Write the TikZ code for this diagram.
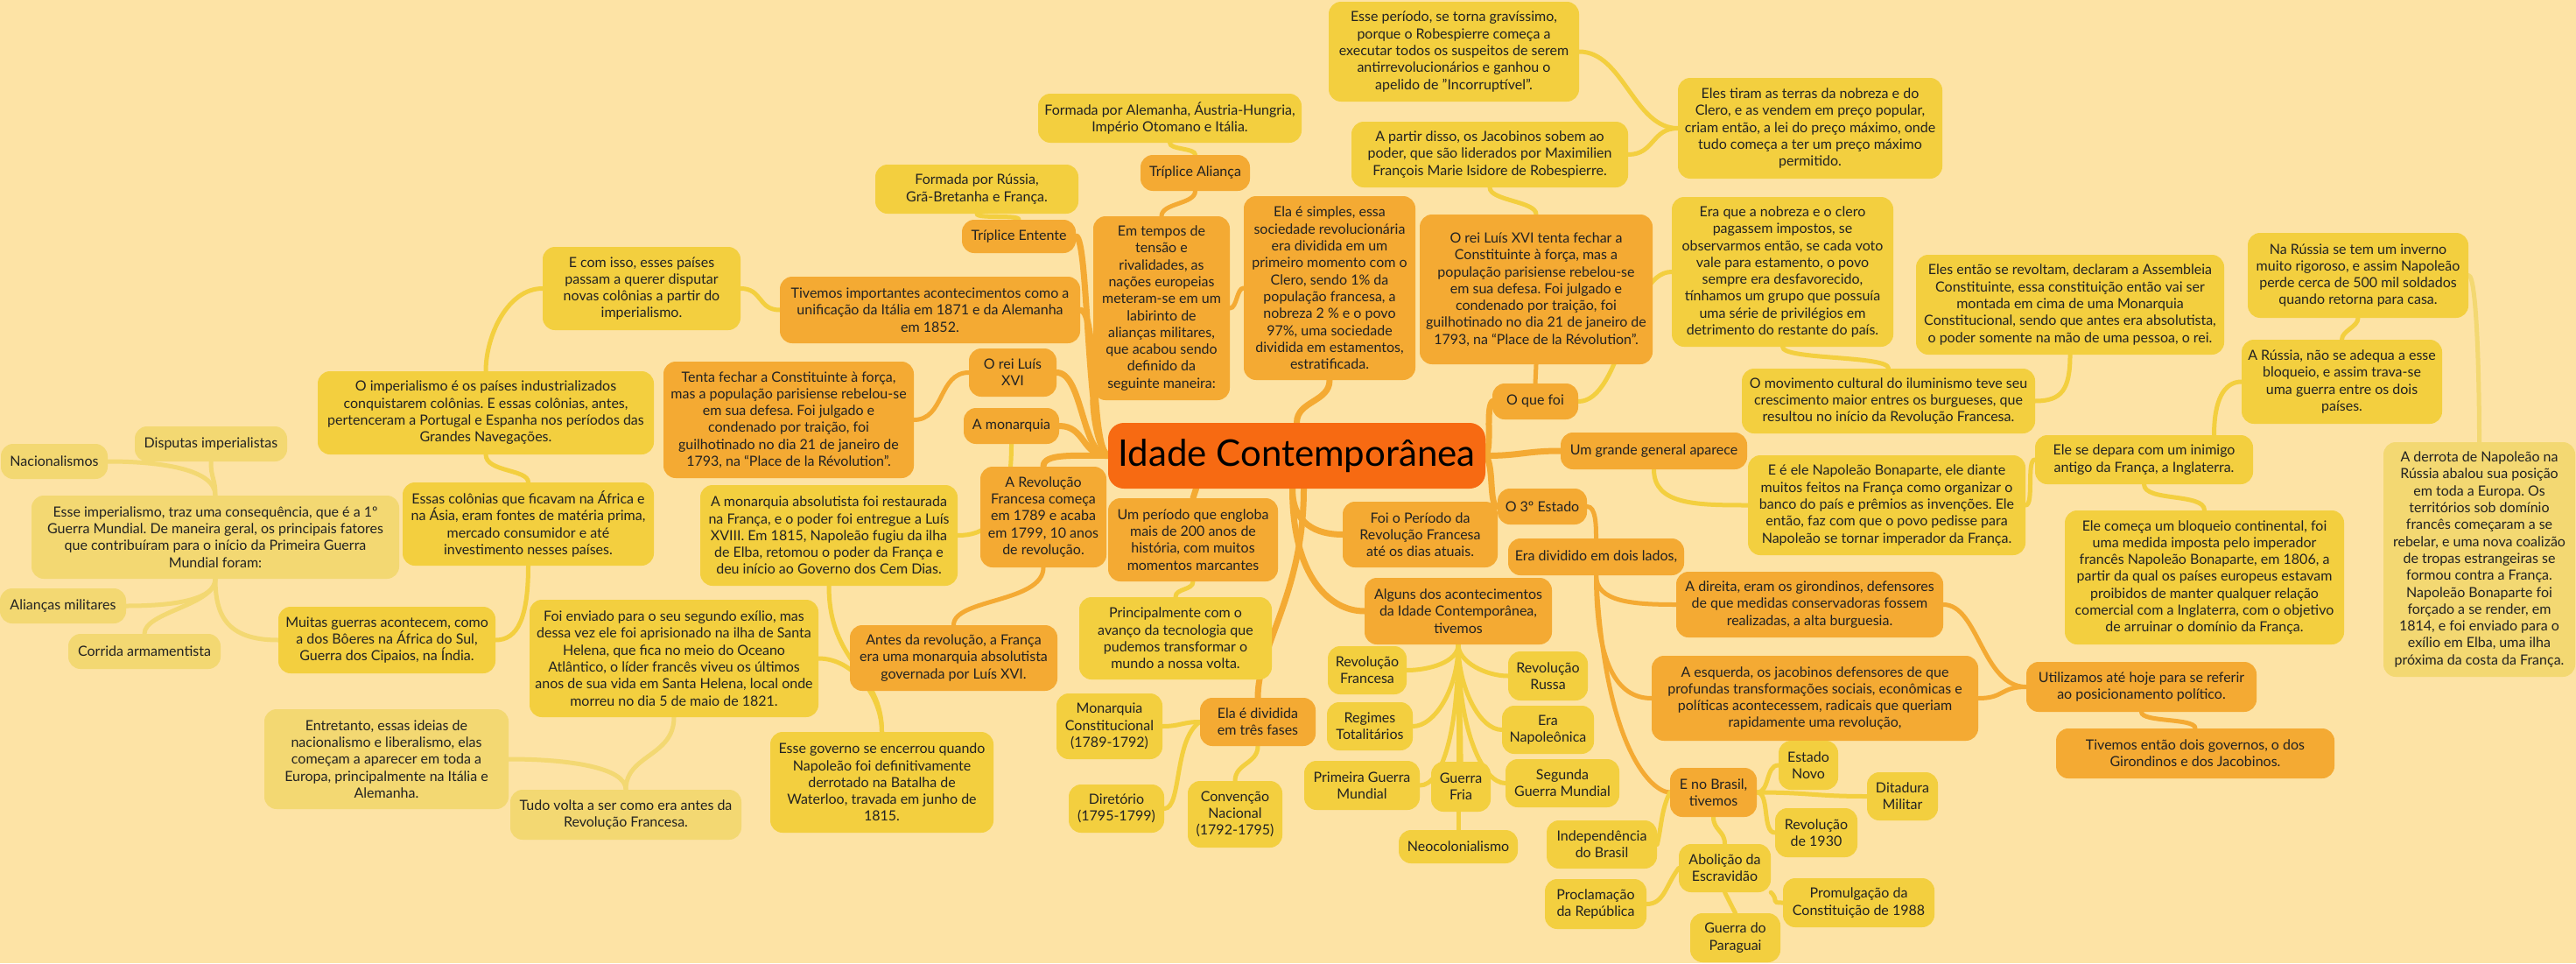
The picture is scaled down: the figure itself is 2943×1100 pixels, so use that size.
\documentclass[tikz,border=0pt]{standalone}
\usepackage{fontspec}
\setmainfont{Lato}
\frenchspacing
\usetikzlibrary{calc}
\definecolor{bgc}{HTML}{FDE3A5}
\definecolor{cor}{HTML}{F4AA33}
\definecolor{cye}{HTML}{F3CF3F}
\definecolor{cpa}{HTML}{F3D872}
\definecolor{croot}{HTML}{F76A12}
\definecolor{ctx}{HTML}{222222}
\pgfdeclarelayer{back}
\pgfdeclarelayer{lines}
\pgfsetlayers{back,lines,main}
\newcommand\bx[7]{%
  \pgfmathsetmacro\bxcx{(#2+#4)/2}%
  \pgfmathsetmacro\bxcy{(#3+#5)/2}%
  \pgfmathsetmacro\bxw{#4-#2}%
  \pgfmathsetmacro\bxh{#5-#3}%
  \node[#6, minimum width=\bxw pt, minimum height=\bxh pt] (#1) at (\bxcx,\bxcy) {#7};}
\tikzset{
  base/.style={rounded corners=14pt, align=center, inner sep=2pt, text=ctx, font=\fontsize{16}{19.3}\selectfont},
  ora/.style={base, fill=cor},
  yel/.style={base, fill=cye},
  pal/.style={base, fill=cpa},
  rootst/.style={rounded corners=18pt, fill=croot, text=black, inner sep=2pt, font=\fontsize{42}{50}\selectfont},
  lo/.style={draw=cor, line width=5pt, line cap=round},
  ly/.style={draw=cye, line width=5pt, line cap=round},
  lp/.style={draw=cpa, line width=5pt, line cap=round},
  thick7/.style={line width=7pt},
}
\begin{document}
\begin{tikzpicture}[x=1pt,y=-1pt]
\useasboundingbox (0,0) rectangle (2943,1100);
\begin{pgfonlayer}{back}
\fill[bgc] (0,0) rectangle (2943,1100);
\end{pgfonlayer}
% ---------- nodes ----------
\bx{root}{1266}{483}{1697}{558}{rootst}{Idade Contemporânea}
\bx{eci}{620}{282}{846}{377}{yel}{E com isso, esses países\\passam a querer disputar\\novas colônias a partir do\\imperialismo.}
\bx{tiv}{891}{316}{1234}{392}{ora}{Tivemos importantes acontecimentos como a\\unificação da Itália em 1871 e da Alemanha\\em 1852.}
\bx{rus}{1000}{188}{1232}{244}{yel}{Formada por Rússia,\\Grã-Bretanha e França.}
\bx{ent}{1099}{251}{1229}{289}{ora}{Tríplice Entente}
\bx{ale}{1186}{107}{1487}{163}{yel}{Formada por Alemanha, Áustria-Hungria,\\Império Otomano e Itália.}
\bx{ali}{1303}{177}{1428}{218}{ora}{Tríplice Aliança}
\bx{em}{1249}{247}{1405}{457}{ora}{Em tempos de\\tensão e\\rivalidades, as\\nações europeias\\meteram-se em um\\labirinto de\\alianças militares,\\que acabou sendo\\definido da\\seguinte maneira:}
\bx{ela}{1421}{224}{1617}{434}{ora}{Ela é simples, essa\\sociedade revolucionária\\era dividida em um\\primeiro momento com o\\Clero, sendo 1\% da\\população francesa, a\\nobreza 2 \% e o povo\\97\%, uma sociedade\\dividida em estamentos,\\estratificada.}
\bx{per2}{1518}{2}{1804}{116}{yel}{Esse período, se torna gravíssimo,\\porque o Robespierre começa a\\executar todos os suspeitos de serem\\antirrevolucionários e ganhou o\\apelido de "Incorruptível".}
\bx{par}{1544}{139}{1860}{214}{yel}{A partir disso, os Jacobinos sobem ao\\poder, que são liderados por Maximilien\\François Marie Isidore de Robespierre.}
\bx{tir}{1917}{89}{2219}{204}{yel}{Eles tiram as terras da nobreza e do\\Clero, e as vendem em preço popular,\\criam então, a lei do preço máximo, onde\\tudo começa a ter um preço máximo\\permitido.}
\bx{reit}{1622}{245}{1888}{416}{ora}{O rei Luís XVI tenta fechar a\\Constituinte à força, mas a\\população parisiense rebelou-se\\em sua defesa. Foi julgado e\\condenado por traição, foi\\guilhotinado no dia 21 de janeiro de\\1793, na “Place de la Révolution”.}
\bx{nob}{1910}{225}{2163}{396}{yel}{Era que a nobreza e o clero\\pagassem impostos, se\\observarmos então, se cada voto\\vale para estamento, o povo\\sempre era desfavorecido,\\tínhamos um grupo que possuía\\uma série de privilégios em\\detrimento do restante do país.}
\bx{rev2}{2189}{291}{2541}{405}{yel}{Eles então se revoltam, declaram a Assembleia\\Constituinte, essa constituição então vai ser\\montada em cima de uma Monarquia\\Constitucional, sendo que antes era absolutista,\\o poder somente na mão de uma pessoa, o rei.}
\bx{inv}{2568}{266}{2820}{363}{yel}{Na Rússia se tem um inverno\\muito rigoroso, e assim Napoleão\\perde cerca de 500 mil soldados\\quando retorna para casa.}
\bx{mov}{1990}{421}{2325}{495}{yel}{O movimento cultural do iluminismo teve seu\\crescimento maior entres os burgueses, que\\resultou no início da Revolução Francesa.}
\bx{rus2}{2561}{388}{2790}{484}{yel}{A Rússia, não se adequa a esse\\bloqueio, e assim trava-se\\uma guerra entre os dois\\países.}
\bx{der}{2723}{505}{2942}{773}{pal}{A derrota de Napoleão na\\Rússia abalou sua posição\\em toda a Europa. Os\\territórios sob domínio\\francês começaram a se\\rebelar, e uma nova coalizão\\de tropas estrangeiras se\\formou contra a França.\\Napoleão Bonaparte foi\\forçado a se render, em\\1814, e foi enviado para o\\exílio em Elba, uma ilha\\próxima da costa da França.}
\bx{que}{1705}{438}{1803}{479}{ora}{O que foi}
\bx{gen}{1783}{494}{1996}{536}{ora}{Um grande general aparece}
\bx{dep}{2325}{497}{2574}{553}{yel}{Ele se depara com um inimigo\\antigo da França, a Inglaterra.}
\bx{nap}{1997}{520}{2314}{634}{yel}{E é ele Napoleão Bonaparte, ele diante\\muitos feitos na França como organizar o\\banco do país e prêmios as invenções. Ele\\então, faz com que o povo pedisse para\\Napoleão se tornar imperador da França.}
\bx{blo}{2359}{583}{2678}{736}{yel}{Ele começa um bloqueio continental, foi\\uma medida imposta pelo imperador\\francês Napoleão Bonaparte, em 1806, a\\partir da qual os países europeus estavam\\proibidos de manter qualquer relação\\comercial com a Inglaterra, com o objetivo\\de arruinar o domínio da França.}
\bx{tres}{1711}{558}{1813}{599}{ora}{O 3º Estado}
\bx{div2}{1723}{615}{1924}{657}{ora}{Era dividido em dois lados,}
\bx{dir}{1915}{653}{2220}{728}{ora}{A direita, eram os girondinos, defensores\\de que medidas conservadoras fossem\\realizadas, a alta burguesia.}
\bx{fop}{1534}{573}{1711}{648}{ora}{Foi o Período da\\Revolução Francesa\\até os dias atuais.}
\bx{alg}{1559}{660}{1773}{736}{ora}{Alguns dos acontecimentos\\da Idade Contemporânea,\\tivemos}
\bx{ump}{1266}{569}{1460}{664}{ora}{Um período que engloba\\mais de 200 anos de\\história, com muitos\\momentos marcantes}
\bx{pri}{1233}{682}{1453}{776}{yel}{Principalmente com o\\avanço da tecnologia que\\pudemos transformar o\\mundo a nossa volta.}
\bx{rei}{1107}{398}{1207}{453}{ora}{O rei Luís\\XVI}
\bx{mon}{1101}{466}{1210}{507}{ora}{A monarquia}
\bx{ten}{758}{413}{1044}{546}{ora}{Tenta fechar a Constituinte à força,\\mas a população parisiense rebelou-se\\em sua defesa. Foi julgado e\\condenado por traição, foi\\guilhotinado no dia 21 de janeiro de\\1793, na “Place de la Révolution”.}
\bx{rev}{1120}{533}{1264}{648}{ora}{A Revolução\\Francesa começa\\em 1789 e acaba\\em 1799, 10 anos\\de revolução.}
\bx{abs}{800}{554}{1094}{669}{yel}{A monarquia absolutista foi restaurada\\na França, e o poder foi entregue a Luís\\XVIII. Em 1815, Napoleão fugiu da ilha\\de Elba, retomou o poder da França e\\deu início ao Governo dos Cem Dias.}
\bx{ant}{971}{714}{1208}{789}{ora}{Antes da revolução, a França\\era uma monarquia absolutista\\governada por Luís XVI.}
\bx{env}{605}{685}{935}{819}{yel}{Foi enviado para o seu segundo exílio, mas\\dessa vez ele foi aprisionado na ilha de Santa\\Helena, que fica no meio do Oceano\\Atlântico, o líder francês viveu os últimos\\anos de sua vida em Santa Helena, local onde\\morreu no dia 5 de maio de 1821.}
\bx{gov}{880}{836}{1135}{951}{yel}{Esse governo se encerrou quando\\Napoleão foi definitivamente\\derrotado na Batalha de\\Waterloo, travada em junho de\\1815.}
\bx{mc}{1207}{792}{1328}{867}{yel}{Monarquia\\Constitucional\\(1789-1792)}
\bx{div}{1371}{797}{1503}{852}{ora}{Ela é dividida\\em três fases}
\bx{dtr}{1221}{896}{1330}{951}{yel}{Diretório\\(1795-1799)}
\bx{con}{1357}{892}{1465}{968}{yel}{Convenção\\Nacional\\(1792-1795)}
\bx{rf}{1517}{738}{1607}{793}{yel}{Revolução\\Francesa}
\bx{rr}{1723}{744}{1814}{800}{yel}{Revolução\\Russa}
\bx{reg}{1516}{802}{1614}{857}{yel}{Regimes\\Totalitários}
\bx{en}{1716}{806}{1821}{861}{yel}{Era\\Napoleônica}
\bx{pgm}{1490}{869}{1622}{925}{yel}{Primeira Guerra\\Mundial}
\bx{gf}{1635}{870}{1703}{927}{yel}{Guerra\\Fria}
\bx{sgm}{1720}{867}{1850}{922}{yel}{Segunda\\Guerra Mundial}
\bx{neo}{1598}{948}{1734}{986}{yel}{Neocolonialismo}
\bx{esq}{1887}{749}{2260}{846}{ora}{A esquerda, os jacobinos defensores de que\\profundas transformações sociais, econômicas e\\políticas acontecessem, radicais que queriam\\rapidamente uma revolução,}
\bx{uti}{2315}{756}{2578}{813}{ora}{Utilizamos até hoje para se referir\\ao posicionamento político.}
\bx{gov2}{2349}{832}{2667}{889}{ora}{Tivemos então dois governos, o dos\\Girondinos e dos Jacobinos.}
\bx{bra}{1908}{877}{2007}{933}{ora}{E no Brasil,\\tivemos}
\bx{est}{2032}{846}{2100}{902}{yel}{Estado\\Novo}
\bx{dit}{2133}{882}{2214}{937}{yel}{Ditadura\\Militar}
\bx{r30}{2028}{923}{2122}{979}{yel}{Revolução\\de 1930}
\bx{ind}{1767}{937}{1893}{992}{yel}{Independência\\do Brasil}
\bx{abo}{1918}{964}{2023}{1019}{yel}{Abolição da\\Escravidão}
\bx{pro}{1765}{1004}{1881}{1061}{yel}{Proclamação\\da República}
\bx{prm}{2037}{1003}{2210}{1059}{yel}{Promulgação da\\Constituição de 1988}
\bx{pgu}{1931}{1043}{2034}{1099}{yel}{Guerra do\\Paraguai}
\bx{imp}{363}{424}{747}{519}{yel}{O imperialismo é os países industrializados\\conquistarem colônias. E essas colônias, antes,\\pertenceram a Portugal e Espanha nos períodos das\\Grandes Navegações.}
\bx{col}{460}{551}{747}{646}{yel}{Essas colônias que ficavam na África e\\na Ásia, eram fontes de matéria prima,\\mercado consumidor e até\\investimento nesses países.}
\bx{esse}{36}{566}{456}{661}{pal}{Esse imperialismo, traz uma consequência, que é a 1º\\Guerra Mundial. De maneira geral, os principais fatores\\que contribuíram para o início da Primeira Guerra\\Mundial foram:}
\bx{dis}{154}{487}{328}{527}{pal}{Disputas imperialistas}
\bx{nac}{1}{507}{123}{547}{pal}{Nacionalismos}
\bx{ali2}{0}{672}{144}{712}{pal}{Alianças militares}
\bx{corr}{78}{724}{252}{764}{pal}{Corrida armamentista}
\bx{mui}{318}{693}{566}{769}{yel}{Muitas guerras acontecem, como\\a dos Bôeres na África do Sul,\\Guerra dos Cipaios, na Índia.}
\bx{ent2}{302}{810}{581}{924}{pal}{Entretanto, essas ideias de\\nacionalismo e liberalismo, elas\\começam a aparecer em toda a\\Europa, principalmente na Itália e\\Alemanha.}
\bx{tud}{583}{902}{847}{959}{pal}{Tudo volta a ser como era antes da\\Revolução Francesa.}
% ---------- connectors ----------
\begin{pgfonlayer}{lines}
% root, left side
\draw[lo,thick7] (root.west) .. controls +(-25,-10) and +(15,0) .. (ent.east);
\draw[lo,thick7] (root.west) .. controls +(-20,-10) and +(20,0) .. (tiv.east);
\draw[lo,thick7] (root.west) .. controls +(-12,-10) and +(0,15) .. (em.south west);
\draw[lo,thick7] (root.west) .. controls +(-30,0) and +(30,0) .. (rei.east);
\draw[lo,thick7] (root.west) .. controls +(-30,0) and +(30,0) .. (mon.east);
\draw[lo,thick7] (root.west) .. controls +(-40,0) and +(0,-15) .. (rev.north);
% root, right and bottom
\draw[lo,thick7] (root.north) .. controls +(0,-25) and +(0,25) .. (ela.south);
\draw[lo,thick7] (root.east) .. controls +(8,-10) and +(-8,10) .. (que.west);
\draw[lo,thick7] (root.east) .. controls +(40,0) and +(-40,0) .. (gen.west);
\draw[lo,thick7] (root.east) .. controls +(10,10) and +(-10,0) .. (tres.west);
\draw[lo,thick7] ([xshift=-5]root.south) .. controls +(0,40) and +(-30,0) .. (fop.west);
\draw[lo,thick7] ([xshift=-5]root.south) .. controls +(0,100) and +(-40,0) .. (alg.west);
\draw[lo,thick7] ([xshift=-115]root.south) -- (ump.north);
\draw[lo,thick7] ([xshift=8]root.south) .. controls +(0,120) and +(0,-60) .. (div.north);
% left subtree
\draw[ly] (ent.north) .. controls +(0,-6) and +(0,6) .. (rus.south);
\draw[lo] (em.north) .. controls +(0,-15) and +(0,15) .. (ali.south);
\draw[ly] (ali.north) .. controls +(0,-8) and +(0,8) .. (ale.south);
\draw[lo] (em.east) .. controls +(8,0) and +(-8,0) .. (ela.west);
\draw[ly] (tiv.west) .. controls +(-25,0) and +(25,0) .. (eci.east);
\draw[ly] (eci.west) .. controls +(-40,0) and +(0,-40) .. (imp.north);
\draw[ly] (imp.south) .. controls +(0,20) and +(0,-15) .. (col.north);
\draw[ly] (col.south) .. controls +(0,60) and +(25,0) .. (mui.east);
\draw[lp] (mui.west) .. controls +(-60,0) and +(0,40) .. (esse.south);
\draw[lp] (esse.north) .. controls +(0,-20) and +(0,20) .. (dis.south);
\draw[lp] (esse.north) .. controls +(0,-30) and +(60,0) .. (nac.east);
\draw[lp] (esse.south) .. controls +(0,25) and +(50,0) .. (ali2.east);
\draw[lp] (esse.south) .. controls +(0,30) and +(0,-25) .. (corr.north);
\draw[lo] (rei.west) .. controls +(-35,0) and +(35,0) .. (ten.east);
\draw[ly] (mon.south) .. controls +(0,90) and +(30,0) .. (abs.east);
\draw[lo] (rev.south) .. controls +(0,40) and +(0,-30) .. (ant.north);
\draw[ly] (abs.south) .. controls +(0,90) and +(0,-70) .. (gov.north);
\draw[ly] (env.east) .. controls +(40,0) and +(0,-40) .. (gov.north);
\draw[lp] (env.south) .. controls +(0,45) and +(0,-40) .. (tud.north);
\draw[lp] (tud.north) .. controls +(0,-25) and +(70,0) .. (ent2.east);
% right subtree
\draw[lo] (que.north) -- (reit.south);
\draw[ly] (reit.north) .. controls +(0,-15) and +(0,15) .. (par.south);
\draw[ly] (par.east) .. controls +(30,0) and +(-30,0) .. (tir.west);
\draw[ly] (tir.west) .. controls +(-50,0) and +(50,0) .. (per2.east);
\draw[ly] (que.east) .. controls +(50,0) and +(-50,0) .. (nob.west);
\draw[ly] (nob.south) .. controls +(0,15) and +(0,-15) .. (mov.north);
\draw[ly] (mov.east) .. controls +(30,0) and +(0,40) .. (rev2.south);
\draw[ly] (gen.south) .. controls +(0,40) and +(-60,0) .. (nap.west);
\draw[ly] (nap.east) .. controls +(10,0) and +(-10,0) .. (dep.west);
\draw[ly] ([xshift=80]dep.north) .. controls +(0,-40) and +(-20,0) .. (rus2.west);
\draw[ly] (dep.south) .. controls +(0,20) and +(0,-20) .. (blo.north);
\draw[ly] (rus2.north) .. controls +(0,-10) and +(0,10) .. (inv.south);
\draw[lp] (inv.east) .. controls +(10,0) and +(0,-60) .. (der.north);
\draw[lo] (tres.east) .. controls +(10,0) and +(0,-15) .. (div2.north);
\draw[lo] (div2.south) .. controls +(0,30) and +(-50,0) .. (dir.west);
\draw[lo] (div2.south) .. controls +(0,100) and +(-40,0) .. (esq.west);
\draw[lo] (div2.south) .. controls +(10,200) and +(-20,0) .. (bra.west);
\draw[lo] (dir.east) .. controls +(40,0) and +(-50,0) .. (uti.west);
\draw[lo] (esq.east) .. controls +(30,0) and +(-30,0) .. (uti.west);
\draw[lo] (uti.south) .. controls +(0,12) and +(0,-12) .. (gov2.north);
\draw[ly] (bra.east) .. controls +(15,0) and +(-15,0) .. (est.west);
\draw[ly] (bra.east) .. controls +(60,0) and +(-60,0) .. (dit.west);
\draw[ly] (bra.east) .. controls +(15,0) and +(-15,0) .. (r30.west);
\draw[ly] (bra.west) .. controls +(-10,20) and +(5,-20) .. (ind.east);
\draw[ly] (bra.south) .. controls +(0,15) and +(0,-15) .. (abo.north);
\draw[ly] (abo.west) .. controls +(-15,20) and +(20,0) .. (pro.east);
\draw[ly] (abo.south east) .. controls +(10,10) and +(-15,0) .. (prm.west);
\draw[ly] (abo.south) -- (pgu.north);
\draw[ly] (alg.south) .. controls +(0,20) and +(25,0) .. (rf.east);
\draw[ly] (alg.south) .. controls +(0,50) and +(25,0) .. (reg.east);
\draw[ly] (alg.south) .. controls +(0,100) and +(25,0) .. (pgm.east);
\draw[ly] (alg.south) .. controls +(0,60) and +(0,-60) .. (gf.north);
\draw[ly] (alg.south) -- (neo.north);
\draw[ly] (alg.south) .. controls +(0,20) and +(-25,0) .. (rr.west);
\draw[ly] (alg.south) .. controls +(0,50) and +(-25,0) .. (en.west);
\draw[ly] (alg.south) .. controls +(0,100) and +(-25,0) .. (sgm.west);
\draw[ly] (div.west) .. controls +(-20,0) and +(20,0) .. (mc.east);
\draw[ly] (div.west) .. controls +(-30,20) and +(20,0) .. (dtr.east);
\draw[ly] (div.south) .. controls +(0,20) and +(0,-20) .. (con.north);
\draw[ly] (ump.south) .. controls +(0,10) and +(0,-10) .. (pri.north);
\end{pgfonlayer}
\end{tikzpicture}
\end{document}
